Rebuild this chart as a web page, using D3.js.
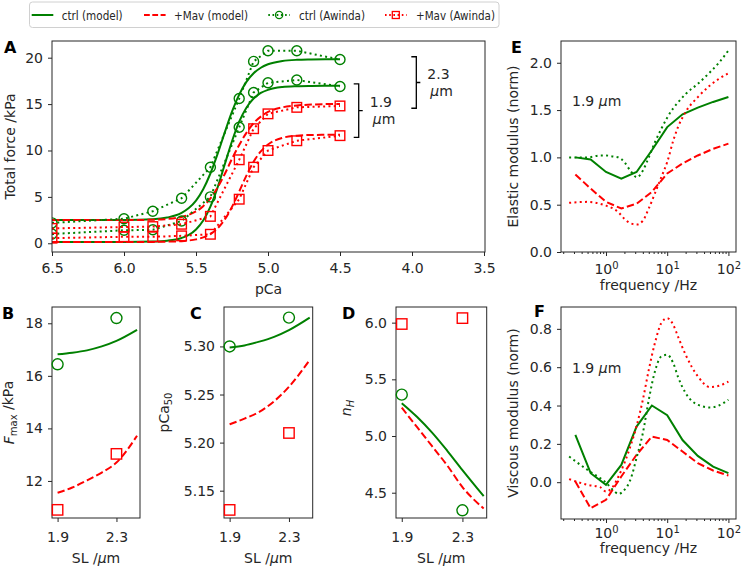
<!DOCTYPE html>
<html><head><meta charset="utf-8">
<script src="https://cdn.jsdelivr.net/npm/d3@7"></script>
<style>
body{margin:0;background:#fff;}
svg{font-family:"DejaVu Sans",sans-serif;}
</style></head><body>
<svg id="chart" width="741" height="568"></svg>
<script>
// ---------------- Panel A: force-pCa ----------------
const pcaTicks = [6.5, 6.0, 5.5, 5.0, 4.5, 4.0, 3.5];
const forceTicks = [0, 5, 10, 15, 20];
const pcaModel = [6.5, 6.0, 5.8, 5.7, 5.6, 5.55, 5.5, 5.45, 5.4, 5.35, 5.3, 5.25, 5.2, 5.15, 5.1, 5.05, 5.0, 4.9, 4.8, 4.7, 4.6, 4.5];
const forceCtrl23Model = [2.50, 2.51, 2.59, 2.77, 3.27, 3.79, 4.60, 5.82, 7.52, 9.63, 11.96, 14.18, 16.02, 17.39, 18.32, 18.92, 19.29, 19.64, 19.77, 19.81, 19.83, 19.83];
const forceCtrl19Model = [0.15, 0.15, 0.19, 0.28, 0.57, 0.90, 1.49, 2.45, 3.95, 6.03, 8.52, 10.99, 13.10, 14.61, 15.60, 16.20, 16.54, 16.84, 16.93, 16.96, 16.97, 16.97];
const forceMav23Model = [2.50, 2.50, 2.54, 2.62, 2.84, 3.07, 3.43, 4.00, 4.84, 6.01, 7.47, 9.11, 10.6, 11.9, 12.95, 13.65, 14.15, 14.65, 14.85, 14.95, 15.0, 15.0];
const forceMav19Model = [0.15, 0.15, 0.15, 0.18, 0.23, 0.30, 0.42, 0.63, 0.99, 1.61, 2.57, 3.92, 5.57, 7.29, 8.79, 9.90, 10.64, 11.36, 11.60, 11.67, 11.69, 11.70];
const pcaExp = [6.5, 6.0, 5.8, 5.6, 5.4, 5.2, 5.1, 5.0, 4.8, 4.5];
const forceCtrl23Exp = [2.2, 2.65, 3.45, 4.85, 8.2, 15.6, 19.6, 20.75, 20.75, 19.8];
const forceCtrl19Exp = [1.0, 1.4, 1.45, 2.4, 5.0, 12.5, 16.25, 17.3, 17.6, 16.9];
const forceMav23Exp = [1.6, 1.75, 1.8, 2.05, 2.9, 9.0, 12.35, 13.95, 14.65, 14.8];
const forceMav19Exp = [0.55, 0.7, 0.7, 0.8, 0.97, 4.75, 8.2, 10.0, 11.05, 11.6];
const bracketLabels = ["1.9", "2.3"];
const bracketPca = [4.37, 3.97];
const bracketTop = [17.17, 20.1];
const bracketBottom = [11.42, 14.55];

// ---------------- Panels B-D: vs sarcomere length ----------------
const slTicks = [1.9, 2.3];
const slModel = [1.9, 2.0, 2.1, 2.2, 2.3, 2.44];
const slExp = [1.9, 2.3];
const fmaxTicks = [12, 14, 16, 18];
const fmaxCtrlModel = [16.82, 16.88, 16.97, 17.12, 17.33, 17.75];
const fmaxMavModel = [11.55, 11.75, 12.02, 12.32, 12.7, 13.72];
const fmaxCtrlExp = [16.44, 18.2];
const fmaxMavExp = [10.9, 13.03];
const pca50Ticks = [5.15, 5.20, 5.25, 5.30];
const pca50CtrlModel = [5.299, 5.301, 5.305, 5.310, 5.317, 5.330];
const pca50MavModel = [5.219, 5.225, 5.232, 5.243, 5.258, 5.286];
const pca50CtrlExp = [5.30, 5.33];
const pca50MavExp = [5.13, 5.21];
const nhTicks = [4.5, 5.0, 5.5, 6.0];
const nhCtrlModel = [5.29, 5.17, 5.03, 4.87, 4.70, 4.47];
const nhMavModel = [5.25, 5.08, 4.91, 4.74, 4.55, 4.36];
const nhCtrlExp = [5.365, 4.345];
const nhMavExp = [5.988, 6.04];

// ---------------- Panels E-F: frequency response ----------------
const freqTicks = [1, 10, 100];
const elasticTicks = [0, 0.5, 1.0, 1.5, 2.0];
const viscousTicks = [0, 0.2, 0.4, 0.6, 0.8];
const freqModel = [0.316, 0.562, 1, 1.78, 3.16, 5.62, 10, 17.8, 31.6, 56.2, 100];
const elasticCtrlModel = [1.0, 0.977, 0.846, 0.776, 0.846, 1.075, 1.32, 1.455, 1.526, 1.586, 1.638];
const elasticMavModel = [0.82, 0.67, 0.53, 0.46, 0.51, 0.635, 0.83, 0.935, 1.02, 1.09, 1.145];
const viscousCtrlModel = [0.247, 0.047, -0.014, 0.09, 0.29, 0.40, 0.35, 0.22, 0.137, 0.081, 0.047];
const viscousMavModel = [0.003, -0.136, -0.092, 0.03, 0.143, 0.238, 0.22, 0.16, 0.099, 0.061, 0.035];
const freqExp = [0.25, 0.5, 0.8, 1.0, 1.3, 1.6, 2.0, 2.5, 3.2, 4, 5, 6.3, 8, 10, 12.6, 15, 20, 32, 50, 70, 100];
const elasticCtrlExp = [1.0, 1.0, 1.02, 1.02, 1.01, 1.0, 0.95, 0.86, 0.79, 0.86, 1.0, 1.16, 1.30, 1.42, 1.52, 1.58, 1.67, 1.78, 1.90, 2.0, 2.13];
const elasticMavExp = [0.52, 0.53, 0.51, 0.49, 0.46, 0.42, 0.35, 0.305, 0.29, 0.33, 0.46, 0.62, 0.79, 0.95, 1.18, 1.32, 1.48, 1.64, 1.76, 1.83, 1.89];
const viscousCtrlExp = [0.134, 0.064, 0.021, -0.002, -0.04, -0.061, -0.04, 0.012, 0.134, 0.256, 0.43, 0.578, 0.656, 0.665, 0.62, 0.55, 0.465, 0.403, 0.39, 0.40, 0.43];
const viscousMavExp = [0.016, -0.014, -0.026, -0.049, -0.023, 0.03, 0.1, 0.186, 0.3, 0.43, 0.586, 0.726, 0.83, 0.856, 0.82, 0.76, 0.665, 0.55, 0.496, 0.503, 0.525];

const legendLabels = ["ctrl (model)", "+Mav (model)", "ctrl (Awinda)", "+Mav (Awinda)"];

// ---------------- drawing ----------------
const svg = d3.select("#chart");
const FONT = "'DejaVu Sans', sans-serif";
const INK = "#262626";
const GREEN = "#008000", RED = "#ff0000";
let clipN = 0;

function makePanel(l, t, r, b) {
  const g = svg.append("g").attr("transform", `translate(${l},${t})`);
  const w = r - l, h = b - t;
  const id = "clip" + (clipN++);
  g.append("clipPath").attr("id", id).append("rect").attr("width", w).attr("height", h);
  const layer = g.append("g").attr("clip-path", `url(#${id})`);
  return {g, w, h, layer};
}
function styleAxis(a) {
  a.select(".domain").remove();
  a.selectAll("line").attr("stroke", INK).attr("stroke-width", 1);
  a.selectAll("text").attr("fill", INK).attr("font-size", 14).attr("font-family", FONT);
}
function axes(p, x, y, o) {
  const ax = d3.axisBottom(x).tickValues(o.xTicks).tickSize(4).tickPadding(o.xPad);
  if (o.xFmt) ax.tickFormat(o.xFmt);
  const gx = p.g.append("g").attr("transform", `translate(0,${p.h})`).call(ax);
  styleAxis(gx);
  if (o.log) {
    gx.selectAll(".tick text").each(function(d) {
      const t = d3.select(this); t.text(null);
      t.append("tspan").text("10");
      t.append("tspan").attr("dy", "-0.5em").attr("font-size", 10).text(Math.round(Math.log10(d)));
    });
    const minor = x.ticks().filter(v => Math.abs(Math.log10(v) - Math.round(Math.log10(v))) > 1e-6);
    const gm = p.g.append("g").attr("transform", `translate(0,${p.h})`)
      .call(d3.axisBottom(x).tickValues(minor).tickSize(2).tickFormat(""));
    styleAxis(gm);
  }
  const gy = p.g.append("g").call(d3.axisLeft(y).tickValues(o.yTicks).tickSize(4).tickPadding(5).tickFormat(o.yFmt));
  styleAxis(gy);
  p.g.append("rect").attr("width", p.w).attr("height", p.h).attr("fill", "none").attr("stroke", INK).attr("stroke-width", 1);
}
function drawLine(layer, xs, ys, x, y, color, style, curve) {
  const line = d3.line().x(d => x(d[0])).y(d => y(d[1])).curve(curve || d3.curveLinear);
  const p = layer.append("path").datum(d3.zip(xs, ys)).attr("d", line)
    .attr("fill", "none").attr("stroke", color).attr("stroke-width", 2);
  if (style === "dash") p.attr("stroke-dasharray", "7.4,3.2");
  if (style === "dot") p.attr("stroke-dasharray", "2,3.3");
  return p;
}
function drawMarkers(layer, xs, ys, x, y, color, shape, s) {
  const pts = d3.zip(xs, ys);
  if (shape === "o") {
    layer.selectAll(null).data(pts).join("circle")
      .attr("cx", d => x(d[0])).attr("cy", d => y(d[1])).attr("r", s)
      .attr("fill", "none").attr("stroke", color).attr("stroke-width", 1.4);
  } else {
    layer.selectAll(null).data(pts).join("rect")
      .attr("x", d => x(d[0]) - s).attr("y", d => y(d[1]) - s)
      .attr("width", 2 * s).attr("height", 2 * s)
      .attr("fill", "none").attr("stroke", color).attr("stroke-width", 1.4);
  }
}
function richText(sel, parts) {
  let shift = 0;
  parts.forEach(pt => {
    const s = sel.append("tspan").text(pt.t);
    if (pt.it) s.attr("font-style", "italic");
    const target = pt.sub ? 0.3 : 0;
    if (target !== shift) { s.attr("dy", (target - shift) + "em"); }
    if (pt.sub) s.attr("font-size", 10);
    shift = target;
  });
}
function ylabel(x, y, parts) {
  const t = svg.append("text").attr("transform", `translate(${x},${y}) rotate(-90)`)
    .attr("text-anchor", "middle").attr("font-size", 14).attr("fill", INK);
  richText(t, parts);
}
function xlabel(x, y, parts) {
  const t = svg.append("text").attr("x", x).attr("y", y)
    .attr("text-anchor", "middle").attr("font-size", 14).attr("fill", INK);
  richText(t, parts);
}
function panelLetter(x, y, s) {
  svg.append("text").attr("x", x).attr("y", y).attr("font-size", 16).attr("font-weight", "bold").attr("fill", "#000").text(s);
}

// ---- Panel A ----
const pA = makePanel(52, 41, 485, 252);
const xA = d3.scaleLinear().domain([6.5, 3.5]).range([0, 432]);
const yA = d3.scaleLinear().domain([-0.94, 21.8]).range([pA.h, 0]);
axes(pA, xA, yA, {xTicks: pcaTicks, xFmt: d3.format(".1f"), xPad: 7, yTicks: forceTicks, yFmt: d3.format("d")});
drawLine(pA.layer, pcaModel, forceCtrl23Model, xA, yA, GREEN, "solid", d3.curveMonotoneX);
drawLine(pA.layer, pcaModel, forceCtrl19Model, xA, yA, GREEN, "solid", d3.curveMonotoneX);
drawLine(pA.layer, pcaModel, forceMav23Model, xA, yA, RED, "dash", d3.curveMonotoneX);
drawLine(pA.layer, pcaModel, forceMav19Model, xA, yA, RED, "dash", d3.curveMonotoneX);
[[forceCtrl23Exp, GREEN, "o"], [forceCtrl19Exp, GREEN, "o"], [forceMav23Exp, RED, "s"], [forceMav19Exp, RED, "s"]].forEach(([ys, c, m]) => {
  drawLine(pA.layer, pcaExp, ys, xA, yA, c, "dot");
  drawMarkers(pA.layer, pcaExp, ys, xA, yA, c, m, m === "o" ? 5 : 4.8);
});
bracketLabels.forEach((lab, i) => {
  const bx = xA(bracketPca[i]), y1 = yA(bracketTop[i]), y2 = yA(bracketBottom[i]), ym = (y1 + y2) / 2;
  pA.g.append("path").attr("d", `M${bx - 5},${y1}H${bx}V${y2}H${bx - 5}M${bx},${ym}H${bx + 4}`)
    .attr("fill", "none").attr("stroke", "#000").attr("stroke-width", 1.3);
  pA.g.append("text").attr("x", bx + 11).attr("y", ym - 4).attr("font-size", 14).attr("fill", INK).text(lab);
  const t = pA.g.append("text").attr("x", bx + 14).attr("y", ym + 13.5).attr("font-size", 14).attr("fill", INK);
  richText(t, [{t: "\u03bc", it: true}, {t: "m"}]);
});
ylabel(14.5, 146.5, [{t: "Total force /kPa"}]);
xlabel(268.5, 294, [{t: "pCa"}]);
panelLetter(4, 53, "A");

// ---- Panels B, C, D ----
function slPanel(l, r, yDom, yTicks, yFmt, ctrlM, mavM, ctrlE, mavE) {
  const p = makePanel(l, 307, r, 518);
  const x = d3.scaleLinear().domain([1.862, 2.46]).range([0, p.w]);
  const y = d3.scaleLinear().domain(yDom).range([p.h, 0]);
  axes(p, x, y, {xTicks: slTicks, xFmt: d3.format(".1f"), xPad: 10.5, yTicks, yFmt});
  drawLine(p.layer, slModel, ctrlM, x, y, GREEN, "solid", d3.curveMonotoneX);
  drawLine(p.layer, slModel, mavM, x, y, RED, "dash", d3.curveMonotoneX);
  drawMarkers(p.g, slExp, ctrlE, x, y, GREEN, "o", 5.5);
  drawMarkers(p.g, slExp, mavE, x, y, RED, "s", 5.2);
  return p;
}
slPanel(52, 140, [10.59, 18.62], fmaxTicks, d3.format("d"), fmaxCtrlModel, fmaxMavModel, fmaxCtrlExp, fmaxMavExp);
slPanel(224, 312.7, [5.1216, 5.341], pca50Ticks, d3.format(".2f"), pca50CtrlModel, pca50MavModel, pca50CtrlExp, pca50MavExp);
slPanel(396, 486.7, [4.277, 6.138], nhTicks, d3.format(".1f"), nhCtrlModel, nhMavModel, nhCtrlExp, nhMavExp);
ylabel(14, 412.5, [{t: "F", it: true}, {t: "max", sub: true}, {t: " /kPa"}]);
ylabel(169, 412.5, [{t: "pCa"}, {t: "50", sub: true}]);
ylabel(351, 408, [{t: "n", it: true}, {t: "H", it: true, sub: true}]);
[96, 268.3, 441.3].forEach(cx => xlabel(cx, 563, [{t: "SL /"}, {t: "\u03bc", it: true}, {t: "m"}]));
panelLetter(2, 318.5, "B");
panelLetter(190, 318.5, "C");
panelLetter(342, 318.5, "D");

// ---- Panels E, F ----
function freqPanel(t, b, yDom, yTicks, xPad, ctrlM, mavM, ctrlE, mavE) {
  const p = makePanel(561, t, 736, b);
  const x = d3.scaleLog().domain([Math.pow(10, -0.735), Math.pow(10, 2.124)]).range([0, p.w]);
  const y = d3.scaleLinear().domain(yDom).range([p.h, 0]);
  axes(p, x, y, {xTicks: freqTicks, xPad, log: true, yTicks, yFmt: d3.format(".1f")});
  drawLine(p.layer, freqModel, ctrlM, x, y, GREEN, "solid");
  drawLine(p.layer, freqModel, mavM, x, y, RED, "dash");
  drawLine(p.layer, freqExp, ctrlE, x, y, GREEN, "dot", d3.curveMonotoneX);
  drawLine(p.layer, freqExp, mavE, x, y, RED, "dot", d3.curveMonotoneX);
  return p;
}
const pE = freqPanel(41, 252, [0, 2.23], elasticTicks, 8, elasticCtrlModel, elasticMavModel, elasticCtrlExp, elasticMavExp);
const pF = freqPanel(307, 519, [-0.192, 0.914], viscousTicks, 5, viscousCtrlModel, viscousMavModel, viscousCtrlExp, viscousMavExp);
[[pE, 65], [pF, 66]].forEach(([p, yy]) => {
  const t = p.g.append("text").attr("x", 11).attr("y", yy).attr("font-size", 14).attr("fill", INK);
  richText(t, [{t: "1.9 "}, {t: "\u03bc", it: true}, {t: "m"}]);
});
ylabel(518, 146.5, [{t: "Elastic modulus (norm)"}]);
ylabel(518, 413, [{t: "Viscous modulus (norm)"}]);
xlabel(648.5, 290, [{t: "frequency /Hz"}]);
xlabel(648.5, 553, [{t: "frequency /Hz"}]);
panelLetter(511, 53, "E");
panelLetter(534, 317, "F");

// ---- Legend ----
const lg = svg.append("g");
lg.append("rect").attr("x", 29.5).attr("y", 2).attr("width", 469.5).attr("height", 25.5).attr("rx", 3)
  .attr("fill", "#fff").attr("stroke", "#d0d0d0").attr("stroke-width", 1);
const legStyles = [[GREEN, "solid", null], [RED, "dash", null], [GREEN, "dot", "o"], [RED, "dot", "s"]];
const legLineX = [31.7, 144, 268.3, 385];
const legTextX = [61.7, 174, 299, 416];
const legTextW = [61, 74, 66, 79];
legendLabels.forEach((lab, i) => {
  const [c, st, m] = legStyles[i];
  const x0 = legLineX[i], x1 = x0 + 21.6, yc = 15;
  const ln = lg.append("line").attr("x1", x0).attr("x2", x1).attr("y1", yc).attr("y2", yc)
    .attr("stroke", c).attr("stroke-width", 2);
  if (st === "dash") ln.attr("stroke-dasharray", "5.8,2.5");
  if (st === "dot") ln.attr("stroke-dasharray", "1.6,2.6");
  const xm = (x0 + x1) / 2;
  if (m === "o") lg.append("circle").attr("cx", xm).attr("cy", yc).attr("r", 3.6).attr("fill", "none").attr("stroke", c).attr("stroke-width", 1.3);
  if (m === "s") lg.append("rect").attr("x", xm - 3.5).attr("y", yc - 3.5).attr("width", 7).attr("height", 7).attr("fill", "none").attr("stroke", c).attr("stroke-width", 1.3);
  lg.append("text").attr("x", legTextX[i]).attr("y", yc + 4.8).attr("font-size", 13).attr("fill", INK)
    .attr("textLength", legTextW[i]).attr("lengthAdjust", "spacingAndGlyphs").text(lab);
});
</script>
</body></html>
